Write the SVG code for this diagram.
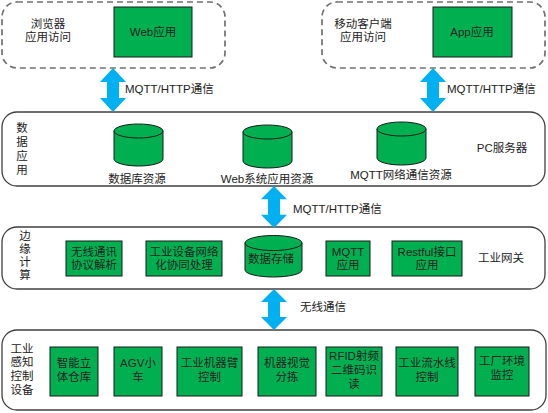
<svg xmlns="http://www.w3.org/2000/svg" width="548" height="413" viewBox="0 0 548 413">
<style>
text{font-family:"Liberation Sans","Noto Sans CJK SC",sans-serif;font-size:11.5px;fill:#222;text-anchor:middle}
text,tspan{dominant-baseline:central}
.lbl{text-anchor:start}
.dash{fill:#fff;stroke:#707070;stroke-width:1.7;stroke-dasharray:6,4}
.tier{fill:#fff;stroke:#404040;stroke-width:1.3}
.g{fill:#00b050;stroke:#1a1a1a;stroke-width:1}
.arr{fill:#00b0f0;stroke:none}
</style>
<defs>
<path id="dbl" d="M0,0 L13,14 L6,14 L6,30 L13,30 L0,44 L-13,30 L-6,30 L-6,14 L-13,14 Z"/>
</defs>
<g id="browser">
<rect class="dash" x="2" y="2" width="223" height="66" rx="15"/>
<text><tspan x="48" y="24">浏览器</tspan><tspan x="48" y="37">应用访问</tspan></text>
</g>
<g id="web-app">
<rect class="g" x="114" y="7" width="78" height="50"/>
<text x="153" y="32">Web应用</text>
</g>
<g id="mobile">
<rect class="dash" x="322" y="2" width="223" height="66" rx="15"/>
<text><tspan x="363" y="24">移动客户端</tspan><tspan x="363" y="37">应用访问</tspan></text>
</g>
<g id="app">
<rect class="g" x="433" y="7" width="79" height="50"/>
<text x="472" y="32">App应用</text>
</g>
<g id="pc-server">
<rect class="tier" x="2" y="112" width="543" height="74" rx="15"/>
<text><tspan x="22" y="128">数</tspan><tspan x="22" y="142">据</tspan><tspan x="22" y="156">应</tspan><tspan x="22" y="170">用</tspan></text>
<text x="502" y="148">PC服务器</text>
</g>
<g id="db-res">
<path class="g" d="M114,131 V159 A24.5,7 0 0 0 163,159 V131 Z"/>
<ellipse class="g" cx="138.5" cy="131" rx="24.5" ry="7"/>
<text x="137" y="179">数据库资源</text>
</g>
<g id="web-res">
<path class="g" d="M243,132 V161 A24.5,7 0 0 0 292,161 V132 Z"/>
<ellipse class="g" cx="267.5" cy="132" rx="24.5" ry="7"/>
<text x="267" y="179">Web系统应用资源</text>
</g>
<g id="mqtt-res">
<path class="g" d="M377,129 V158 A24.5,7 0 0 0 426,158 V129 Z"/>
<ellipse class="g" cx="401.5" cy="129" rx="24.5" ry="7"/>
<text x="401" y="175">MQTT网络通信资源</text>
</g>
<g id="edge">
<rect class="tier" x="2" y="227" width="543" height="62" rx="15"/>
<text><tspan x="25" y="236">边</tspan><tspan x="25" y="249">缘</tspan><tspan x="25" y="262">计</tspan><tspan x="25" y="275">算</tspan></text>
<text x="501" y="258">工业网关</text>
</g>
<g id="wireless-parse">
<rect class="g" x="66" y="241" width="56" height="35"/>
<text><tspan x="94" y="252">无线通讯</tspan><tspan x="94" y="265">协议解析</tspan></text>
</g>
<g id="device-net">
<rect class="g" x="146" y="241" width="76" height="35"/>
<text><tspan x="184" y="252">工业设备网络</tspan><tspan x="184" y="265">化协同处理</tspan></text>
</g>
<g id="storage">
<path class="g" d="M245,243 V270 A28.5,7 0 0 0 302,270 V243 Z"/>
<ellipse class="g" cx="273.5" cy="243" rx="28.5" ry="7.5"/>
<text x="271" y="259">数据存储</text>
</g>
<g id="mqtt-app">
<rect class="g" x="326" y="241" width="44" height="35"/>
<text><tspan x="348" y="252">MQTT</tspan><tspan x="348" y="265">应用</tspan></text>
</g>
<g id="restful">
<rect class="g" x="392" y="241" width="70" height="35"/>
<text><tspan x="427" y="252">Restful接口</tspan><tspan x="427" y="265">应用</tspan></text>
</g>
<g id="sensing">
<rect class="tier" x="2" y="330" width="544" height="80" rx="15"/>
<text><tspan x="22" y="349">工业</tspan><tspan x="22" y="362">感知</tspan><tspan x="22" y="376">控制</tspan><tspan x="22" y="390">设备</tspan></text>
</g>
<g id="warehouse">
<rect class="g" x="50" y="347" width="48" height="49"/>
<text><tspan x="74" y="363">智能立</tspan><tspan x="74" y="377">体仓库</tspan></text>
</g>
<g id="agv">
<rect class="g" x="114" y="347" width="48" height="49"/>
<text><tspan x="138" y="363">AGV小</tspan><tspan x="138" y="377">车</tspan></text>
</g>
<g id="robot-arm">
<rect class="g" x="177" y="347" width="65" height="49"/>
<text><tspan x="209.5" y="363">工业机器臂</tspan><tspan x="209.5" y="377">控制</tspan></text>
</g>
<g id="vision">
<rect class="g" x="258" y="347" width="58" height="49"/>
<text><tspan x="287" y="363">机器视觉</tspan><tspan x="287" y="377">分拣</tspan></text>
</g>
<g id="rfid">
<rect class="g" x="326" y="347" width="56" height="49"/>
<text><tspan x="354" y="356">RFID射频</tspan><tspan x="354" y="370">二维码识</tspan><tspan x="354" y="384">读</tspan></text>
</g>
<g id="assembly">
<rect class="g" x="396" y="347" width="62" height="49"/>
<text><tspan x="427" y="363">工业流水线</tspan><tspan x="427" y="377">控制</tspan></text>
</g>
<g id="environment">
<rect class="g" x="475" y="347" width="54" height="49"/>
<text><tspan x="502" y="361">工厂环境</tspan><tspan x="502" y="375">监控</tspan></text>
</g>
<g id="connectors">
<use href="#dbl" class="arr" transform="translate(113,68)"/>
<text class="lbl" x="125" y="89">MQTT/HTTP通信</text>
<use href="#dbl" class="arr" transform="translate(433,68)"/>
<text class="lbl" x="447" y="89">MQTT/HTTP通信</text>
<use href="#dbl" class="arr" transform="translate(274,186) scale(1,0.955)"/>
<text class="lbl" x="293" y="209">MQTT/HTTP通信</text>
<use href="#dbl" class="arr" transform="translate(274,289) scale(1,0.93)"/>
<text class="lbl" x="300" y="307">无线通信</text>
</g>
</svg>
